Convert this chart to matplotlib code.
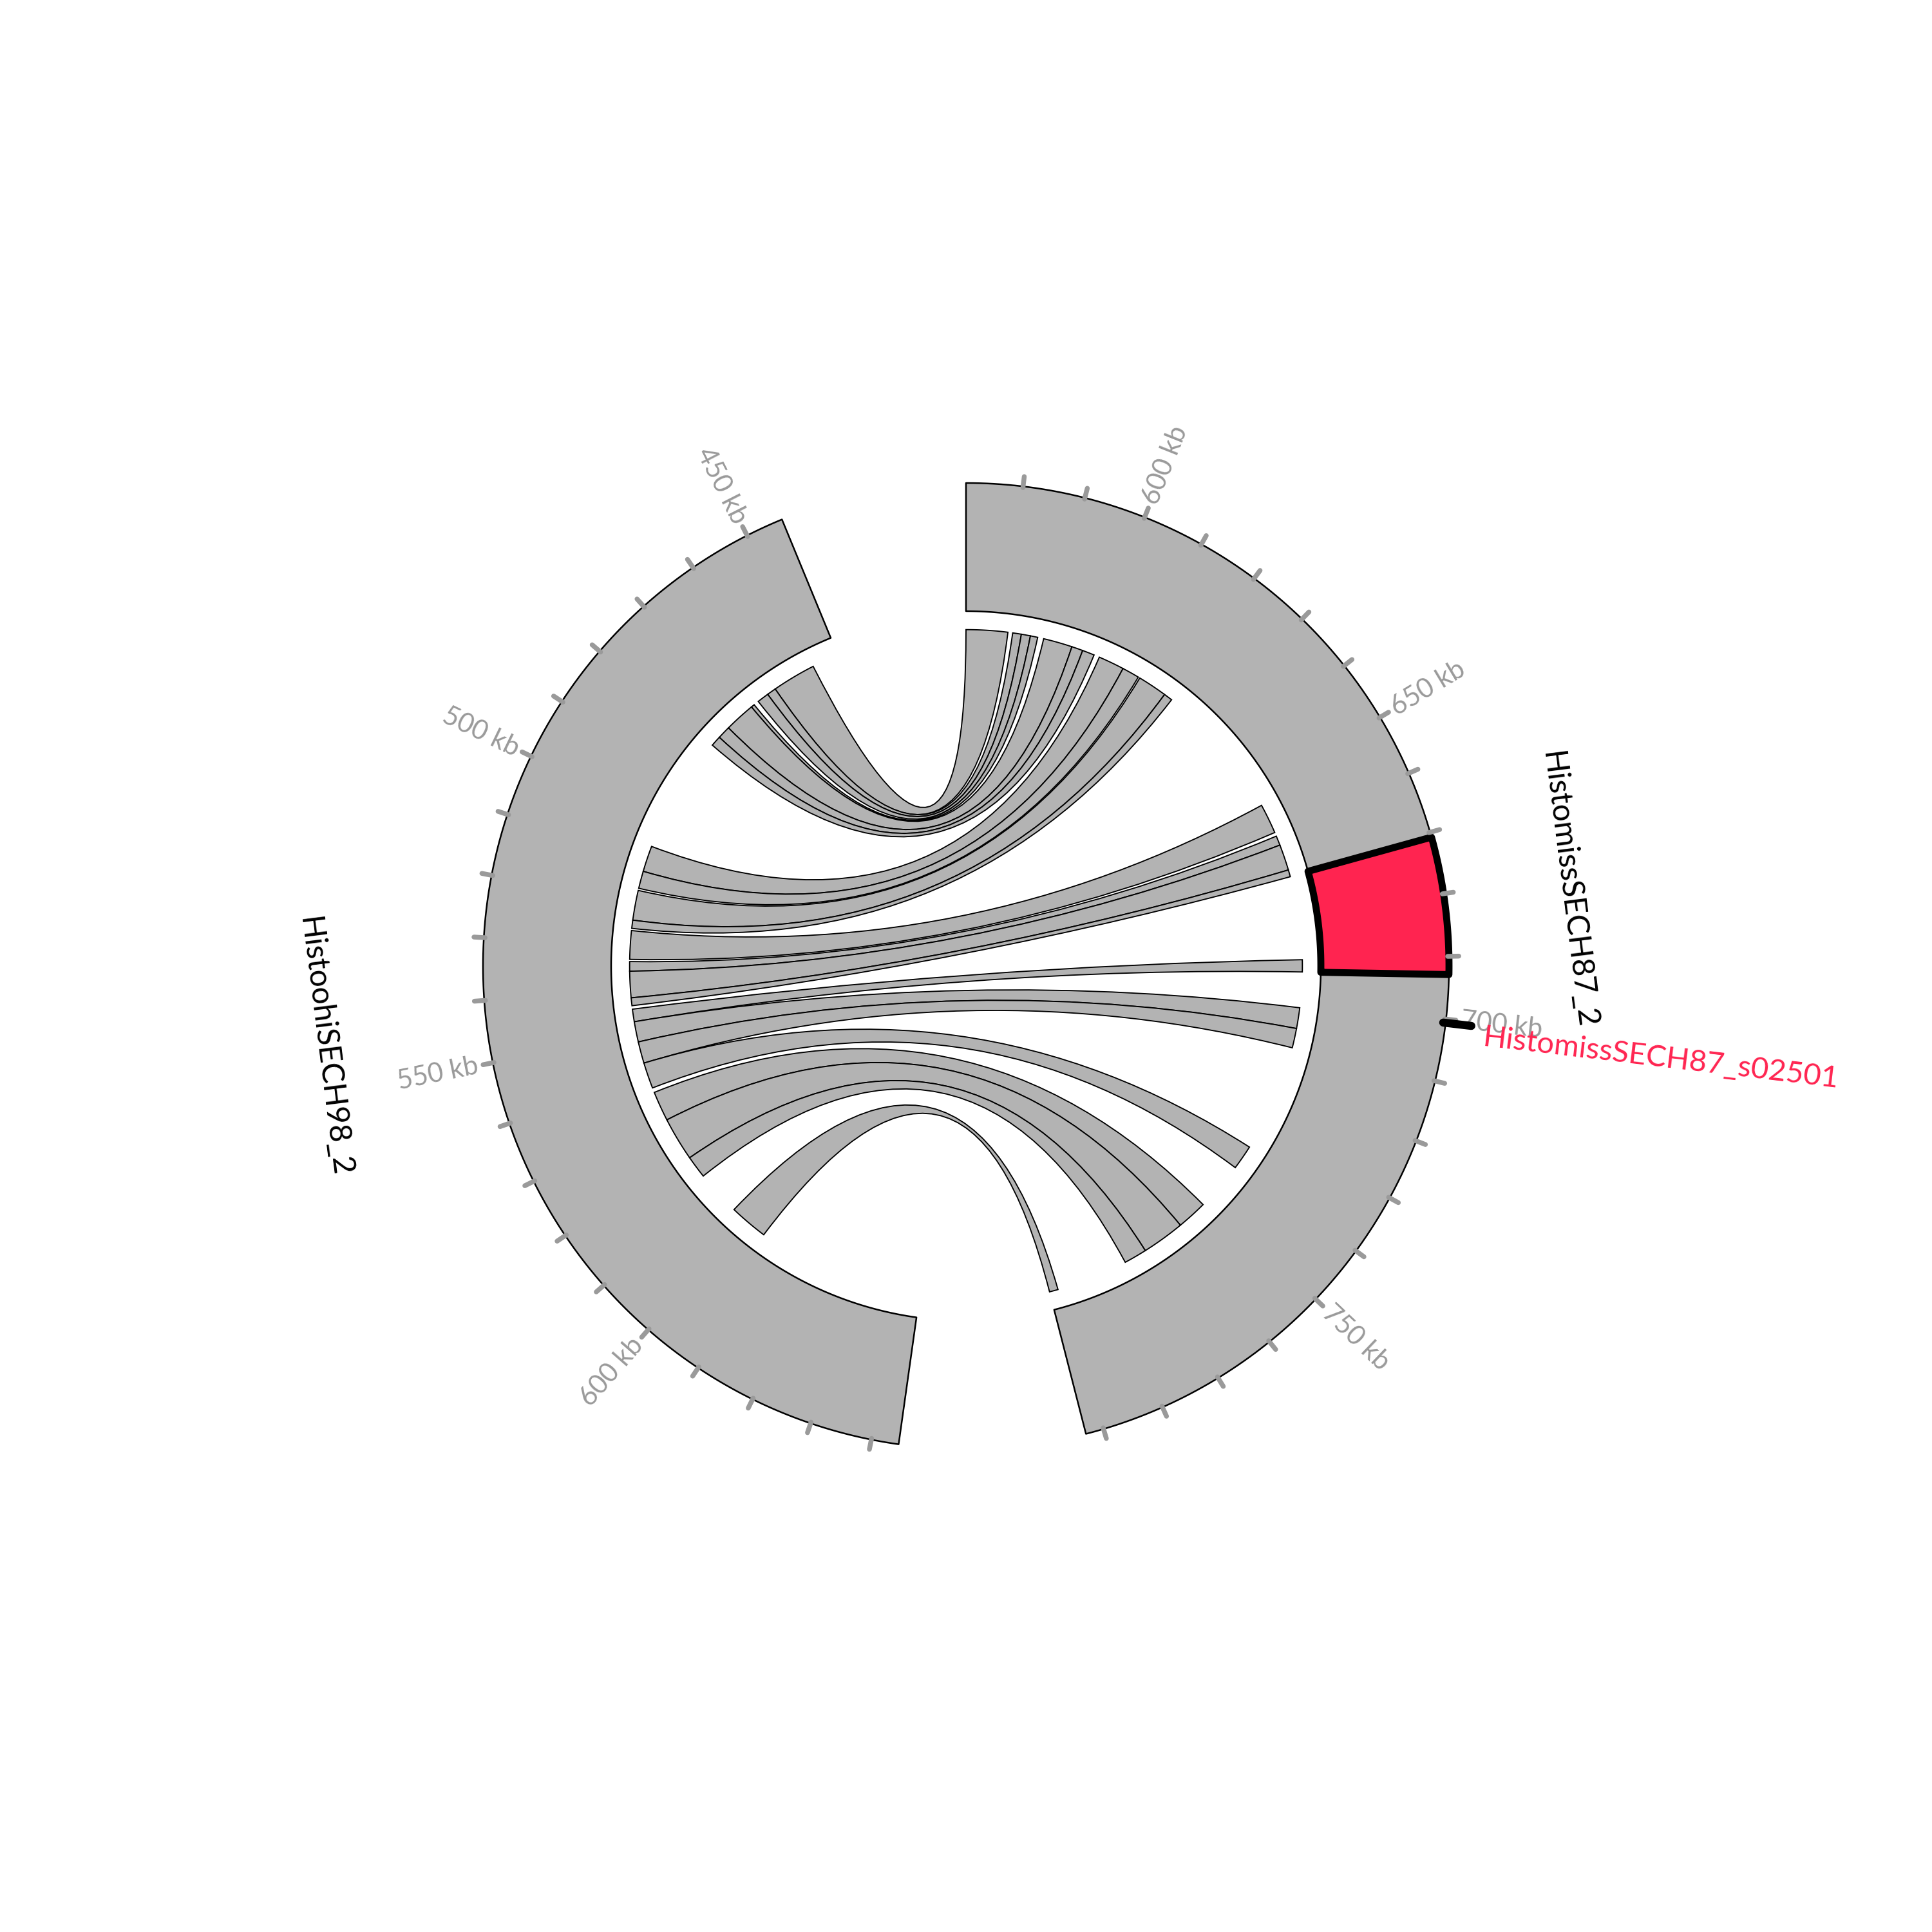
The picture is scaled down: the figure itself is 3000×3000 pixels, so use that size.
import numpy as np
import matplotlib
matplotlib.use("Agg")
import matplotlib.pyplot as plt
from matplotlib.path import Path
from matplotlib.patches import PathPatch

# ---------------- data ----------------
chrom_names = ["HistomissSECH87_2", "HistoohiSECH98_2"]
chrom_start_kb = [570.9, 443.9]
chrom_end_kb = [792.9, 644.4]
chrom_reversed = [False, True]

highlight_kb = [670.8, 692.9]          # on HistomissSECH87_2
highlight_label = "HistomissSECH87_s02501"
highlight_label_kb = 700.6

# links between HistoohiSECH98_2 (left) and HistomissSECH87_2 (right), kb
link_left_start = [450.1, 460.2, 462.3, 466.2, 467.0, 474.1, 477.1,
                   506.6, 512.6, 517.1, 524.0, 526.4, 533.5, 535.7, 541.8,
                   544.4, 547.3, 552.0, 557.0, 564.1, 571.0, 581.1, 596.7]
link_left_end = [460.2, 462.3, 465.0, 467.0, 474.1, 477.1, 479.5,
                 512.6, 516.6, 524.0, 525.9, 533.0, 535.7, 541.8, 543.6,
                 547.3, 552.0, 557.0, 563.0, 571.0, 581.1, 586.3, 605.6]
link_right_start = [570.9, 581.6, 583.6, 585.7, 588.8, 595.5, 598.1,
                    602.2, 608.2, 612.6, 619.4, 653.3, 661.1, 663.3, 669.3,
                    690.1, 701.1, 705.9, 735.2, 752.1, 759.1, 769.0, 790.9]
link_right_end = [580.5, 583.6, 585.7, 587.4, 595.5, 598.1, 600.9,
                  608.2, 612.2, 619.4, 621.4, 660.2, 663.3, 669.3, 670.9,
                  692.9, 705.9, 710.4, 740.9, 759.1, 769.0, 774.3, 792.9]

tick_step_kb = 10
label_step_kb = 50

# ---------------- layout ----------------
GAP = 22.4
R_OUT, R_IN, R_LINK = 392, 288, 273
GRAY = "#b3b3b3"
RED = "#ff2450"
TICK_GRAY = "#9a9a9a"
FONT = "Lato"

lengths = [e - s for s, e in zip(chrom_start_kb, chrom_end_kb)]
deg_per_kb = (360 - GAP * len(lengths)) / sum(lengths)
chrom_a0 = []
a = 0.0
for L in lengths:
    chrom_a0.append(a)
    a += L * deg_per_kb + GAP


def ang(ci, kb):
    span = lengths[ci] * deg_per_kb
    off = (kb - chrom_start_kb[ci]) * deg_per_kb
    return chrom_a0[ci] + (span - off if chrom_reversed[ci] else off)


def pt(theta, r):
    t = np.deg2rad(theta)
    return (r * np.sin(t), r * np.cos(t))


def arc(t0, t1, r, n=200):
    ts = np.linspace(t0, t1, n)
    return [pt(t, r) for t in ts]


fig = plt.figure(figsize=(10, 10), dpi=300)
ax = fig.add_axes([0, 0, 1, 1])
ax.set_xlim(-784, 784)
ax.set_ylim(-784, 784)
ax.set_aspect("equal")
ax.axis("off")


def band(t0, t1, r0, r1, fc, lw, z, ec="black"):
    verts = arc(t0, t1, r1) + arc(t1, t0, r0)
    verts.append(verts[0])
    codes = [Path.MOVETO] + [Path.LINETO] * (len(verts) - 2) + [Path.CLOSEPOLY]
    ax.add_patch(PathPatch(Path(verts, codes), facecolor=fc, edgecolor=ec,
                           lw=lw, zorder=z, joinstyle="round"))


# ideograms
for ci in range(len(chrom_names)):
    t0 = chrom_a0[ci]
    t1 = t0 + lengths[ci] * deg_per_kb
    band(t0, t1, R_IN, R_OUT, GRAY, 0.6, 1)

# highlight
h0, h1 = ang(0, highlight_kb[0]), ang(0, highlight_kb[1])
band(h0, h1, R_IN, R_OUT, RED, 2.6, 3)

# links
for ls, le, rs, re in zip(link_left_start, link_left_end, link_right_start, link_right_end):
    a1, a2 = ang(1, ls), ang(1, le)
    b1, b2 = ang(0, rs), ang(0, re)
    verts = arc(a1, a2, R_LINK, 60)
    codes = [Path.MOVETO] + [Path.LINETO] * (len(verts) - 1)
    verts += [(0, 0), pt(b2, R_LINK)]
    codes += [Path.CURVE3, Path.CURVE3]
    bb = arc(b2, b1, R_LINK, 60)[1:]
    verts += bb
    codes += [Path.LINETO] * len(bb)
    verts += [(0, 0), pt(a1, R_LINK)]
    codes += [Path.CURVE3, Path.CURVE3]
    verts.append(pt(a1, R_LINK))
    codes.append(Path.CLOSEPOLY)
    ax.add_patch(PathPatch(Path(verts, codes), facecolor=GRAY, edgecolor="black",
                           lw=0.45, zorder=2))

# ticks and tick labels
for ci in range(len(chrom_names)):
    first = int(np.ceil(chrom_start_kb[ci] / tick_step_kb)) * tick_step_kb
    for kb in range(first, int(chrom_end_kb[ci]) + 1, tick_step_kb):
        th = ang(ci, kb)
        x0, y0 = pt(th, R_OUT - 1)
        x1, y1 = pt(th, R_OUT + 8)
        ax.plot([x0, x1], [y0, y1], color=TICK_GRAY, lw=1.8,
                solid_capstyle="round", zorder=4)
        if kb % label_step_kb == 0:
            xl, yl = pt(th, R_OUT + 12)
            rot = 90 - th
            ha = "left"
            if th > 180:
                rot += 180
                ha = "right"
            ax.text(xl, yl, f"{kb} kb", rotation=rot, rotation_mode="anchor",
                    ha=ha, va="center", fontsize=10, color=TICK_GRAY,
                    family=FONT, fontweight="normal", zorder=5)

# chromosome labels
label_r = [493, 525]
for ci, name in enumerate(chrom_names):
    mid = chrom_a0[ci] + lengths[ci] * deg_per_kb / 2
    x, y = pt(mid, label_r[ci])
    rot = -mid
    if mid > 180:
        rot += 180
    ax.text(x, y, name, rotation=rot, rotation_mode="anchor", ha="center",
            va="center", fontsize=11.5, color="black", family=FONT,
            fontweight="normal", zorder=5)

# highlight label with connector
th = ang(0, highlight_label_kb)
x0, y0 = pt(th, R_OUT - 2)
x1, y1 = pt(th, R_OUT + 21)
ax.plot([x0, x1], [y0, y1], color="black", lw=3.0, solid_capstyle="round", zorder=6)
xl, yl = pt(th + 1.1, R_OUT + 32)
ax.text(xl, yl, highlight_label, rotation=90 - th, rotation_mode="anchor",
        ha="left", va="center", fontsize=11.3, color=RED, family=FONT,
        fontweight="normal", zorder=6)

fig.savefig("out.png", dpi=300, facecolor="white")
